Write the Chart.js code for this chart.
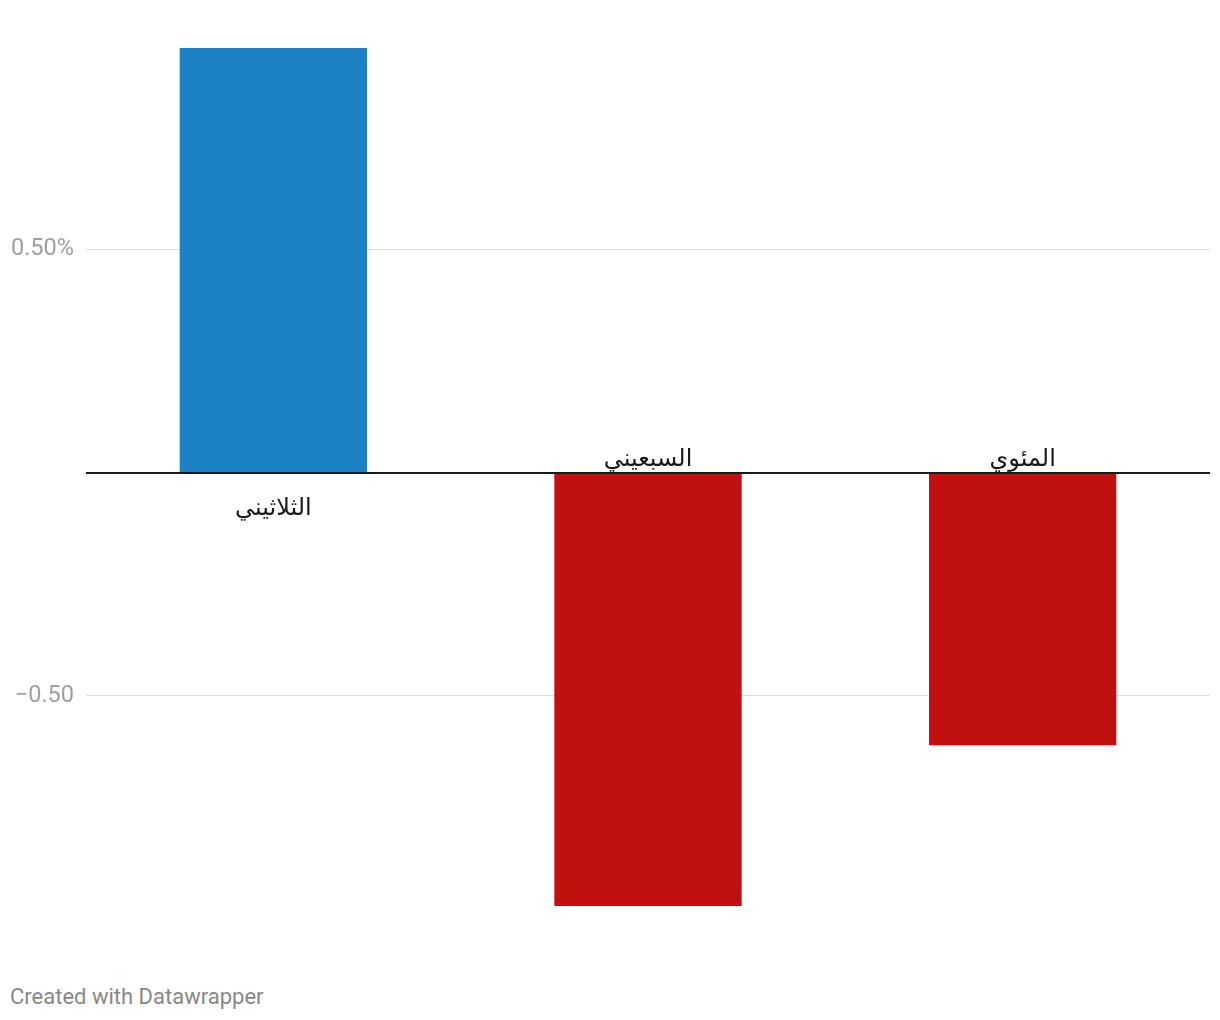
<!DOCTYPE html>
<html>
<head>
<meta charset="utf-8">
<script src="https://cdn.jsdelivr.net/npm/chart.js@4"></script>
<style>
html,body{margin:0;padding:0;background:#fff;}
#wrap{position:absolute;left:0;top:0;width:1220px;height:960px;}
#footer{position:absolute;left:10px;top:984px;font-family:Roboto,sans-serif;font-size:22px;color:#888;}
</style>
</head>
<body>
<div id="wrap"><canvas id="c"></canvas></div>
<div id="footer">Created with Datawrapper</div>
<script>
const categories = ["الثلاثيني", "السبعيني", "المئوي"];
const values = [0.95, -0.97, -0.61];
const tickValues = [0.5, 0, -0.5];
const tickLabels = ["0.50%", "", "−0.50"];
const positiveColor = "#1b83c5";
const negativeColor = "#c11010";

const zeroAndLabels = {
  id: "zeroAndLabels",
  afterDatasetsDraw(chart) {
    const ctx = chart.ctx;
    const y = chart.scales.y;
    const x = chart.scales.x;
    const a = chart.chartArea;
    const zy = y.getPixelForValue(0);
    ctx.save();
    ctx.strokeStyle = "#1a1a1a";
    ctx.lineWidth = 2;
    ctx.beginPath();
    ctx.moveTo(a.left, zy + 0.5);
    ctx.lineTo(a.right, zy + 0.5);
    ctx.stroke();
    ctx.fillStyle = "#1a1a1a";
    ctx.font = "24px Roboto, 'Noto Sans', 'DejaVu Sans', sans-serif";
    ctx.textAlign = "center";
    ctx.textBaseline = "middle";
    categories.forEach((cat, i) => {
      const px = x.getPixelForValue(i);
      const py = values[i] >= 0 ? zy + 36 : zy - 13;
      ctx.fillText(cat, px, py);
    });
    ctx.restore();
  }
};

new Chart(document.getElementById("c"), {
  type: "bar",
  data: {
    labels: categories,
    datasets: [{
      data: values,
      backgroundColor: values.map(v => v >= 0 ? positiveColor : negativeColor),
      borderWidth: 0,
      categoryPercentage: 1,
      barPercentage: 0.5
    }]
  },
  options: {
    responsive: true,
    maintainAspectRatio: false,
    animation: false,
    layout: { padding: { top: 48, right: 10, left: 10, bottom: 54 } },
    plugins: { legend: { display: false }, tooltip: { enabled: false } },
    scales: {
      x: { display: false },
      y: {
        min: -0.97,
        max: 0.95,
        afterBuildTicks(scale) {
          scale.ticks = tickValues.map(v => ({ value: v }));
        },
        afterFit(scale) { scale.width = 76; },
        border: { display: false },
        grid: {
          color: ctx => ctx.tick && ctx.tick.value === 0 ? "rgba(0,0,0,0)" : "#dddddd",
          lineWidth: 1,
          drawTicks: false
        },
        ticks: {
          padding: 12,
          color: "#a0a0a0",
          font: { family: "Roboto", size: 23.5 },
          callback: (v) => {
            const i = tickValues.indexOf(v);
            return i >= 0 ? tickLabels[i] : "";
          }
        }
      }
    }
  },
  plugins: [zeroAndLabels]
});
</script>
</body>
</html>
